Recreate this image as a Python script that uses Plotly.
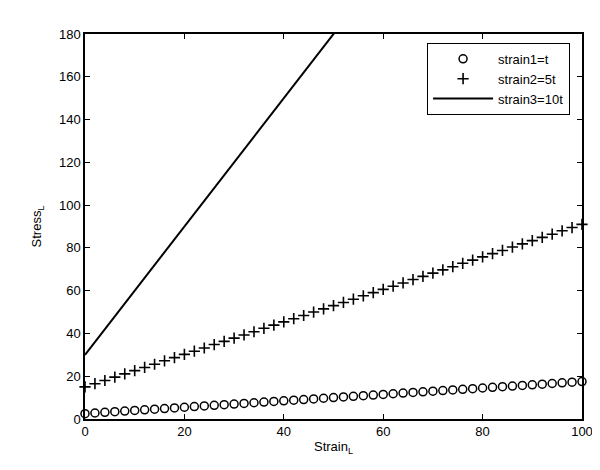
import plotly.graph_objects as go

# strain (x) sampled every 2 units
strain = [0, 2, 4, 6, 8, 10, 12, 14, 16, 18, 20, 22, 24, 26, 28, 30, 32, 34, 36, 38, 40,
          42, 44, 46, 48, 50, 52, 54, 56, 58, 60, 62, 64, 66, 68, 70, 72, 74, 76, 78, 80,
          82, 84, 86, 88, 90, 92, 94, 96, 98, 100]

# strain1=t  (circles)
stress1 = [2.5, 2.8, 3.1, 3.4, 3.7, 4.0, 4.3, 4.6, 4.9, 5.2, 5.5, 5.8, 6.1, 6.4, 6.7, 7.0,
           7.3, 7.6, 7.9, 8.2, 8.5, 8.8, 9.1, 9.4, 9.7, 10.0, 10.3, 10.6, 10.9, 11.2, 11.5,
           11.8, 12.1, 12.4, 12.7, 13.0, 13.3, 13.6, 13.9, 14.2, 14.5, 14.8, 15.1, 15.4,
           15.7, 16.0, 16.3, 16.6, 16.9, 17.2, 17.5]

# strain2=5t  (plus signs)
stress2 = [15.0, 16.5, 18.0, 19.6, 21.1, 22.6, 24.1, 25.6, 27.2, 28.7, 30.2, 31.7, 33.2,
           34.8, 36.3, 37.8, 39.3, 40.8, 42.4, 43.9, 45.4, 46.9, 48.4, 50.0, 51.5, 53.0,
           54.5, 56.0, 57.6, 59.1, 60.6, 62.1, 63.6, 65.2, 66.7, 68.2, 69.7, 71.2, 72.8,
           74.3, 75.8, 77.3, 78.8, 80.4, 81.9, 83.4, 84.9, 86.4, 88.0, 89.5, 91.0]

# strain3=10t  (solid line, runs off the top of the axes)
strain3_x = [0, 100]
stress3 = [30, 330]

x_ticks = [0, 20, 40, 60, 80, 100]
y_ticks = [0, 20, 40, 60, 80, 100, 120, 140, 160, 180]

FONT = 'Liberation Sans, Arial, sans-serif'

fig = go.Figure()
fig.add_trace(go.Scatter(
    x=strain, y=stress1, mode='markers', name='strain1=t', cliponaxis=False,
    marker=dict(symbol='circle-open', size=8, color='black', line=dict(width=1.5, color='black'))
))
fig.add_trace(go.Scatter(
    x=strain, y=stress2, mode='markers', name='strain2=5t', cliponaxis=False,
    marker=dict(symbol='cross-thin', size=8, color='black', line=dict(width=1.6, color='black'))
))
fig.add_trace(go.Scatter(
    x=strain3_x, y=stress3, mode='lines', name='strain3=10t',
    line=dict(color='black', width=2)
))

axis_common = dict(
    showline=True, linecolor='black', linewidth=1.5, mirror='ticks',
    ticks='inside', ticklen=5, tickcolor='black', tickwidth=1,
    showgrid=False, zeroline=False,
    tickfont=dict(family=FONT, size=13, color='black'),
)

fig.update_layout(
    width=600, height=470,
    margin=dict(l=77, r=26, t=26, b=59),
    paper_bgcolor='white', plot_bgcolor='white',
    font=dict(family=FONT, size=13, color='black'),
    xaxis=dict(range=[0, 100], tickvals=x_ticks,
               title=dict(text='Strain<sub>L</sub>', font=dict(size=13), standoff=4),
               **axis_common),
    yaxis=dict(range=[0, 180], tickvals=y_ticks,
               title=dict(text='Stress<sub>L</sub>', font=dict(size=13), standoff=14),
               **axis_common),
    legend=dict(x=0.976, y=0.977, xanchor='right', yanchor='top',
                bgcolor='white', bordercolor='black', borderwidth=1,
                font=dict(family=FONT, size=13, color='black'),
                itemwidth=60, tracegroupgap=0),
    showlegend=True,
)

fig.write_html("out.html")
